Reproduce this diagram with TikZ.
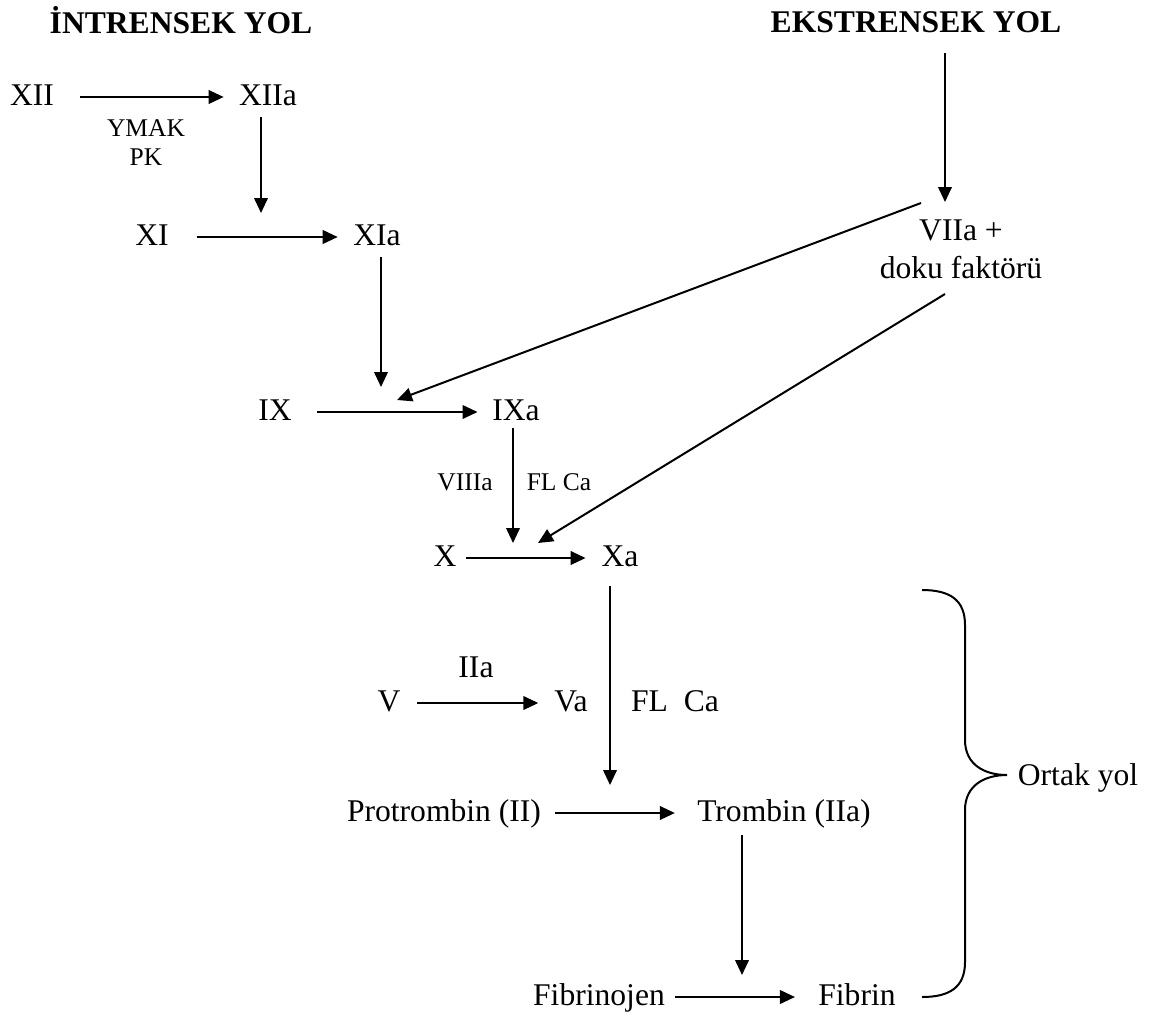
\documentclass[tikz,border=0pt]{standalone}
\usepackage{fontspec}
\setmainfont{Liberation Serif}
\usetikzlibrary{arrows.meta}
\begin{document}
\begin{tikzpicture}[x=0.5pt,y=0.5pt,yscale=-1,xscale=1,
  fac/.style={inner sep=0pt,font=\fontsize{15.8}{19}\selectfont,text height=10.9pt,text depth=2.85pt},
  ttl/.style={fac,font=\bfseries\fontsize{15.8}{19}\selectfont},
  two/.style={inner sep=0pt,align=center,font=\fontsize{15.8}{19}\selectfont},
  sml/.style={inner sep=0pt,align=center,font=\fontsize{12.75}{14.5}\selectfont},
  arr/.style={line width=1pt,-{Triangle[length=7.5pt,width=6.8pt]}}]
\useasboundingbox (0,0) rectangle (1156,1018);

% Text Node
\node[ttl] (intr) at (181,25) {İNTRENSEK YOL};
% Text Node
\node[ttl] (ekstr) at (916,24) {EKSTRENSEK YOL};
% Text Node
\node[fac] (xii) at (32,97) {XII};
\node[fac] (xiia) at (268,97) {XIIa};
\node[sml] (ymak) at (146,142.5) {YMAK\\PK};
% Text Node
\node[fac] (xi) at (152,237) {XI};
\node[fac] (xia) at (377,237) {XIa};
% Text Node
\node[two] (vii) at (961,249) {VIIa +\\doku faktörü};
% Text Node
\node[fac] (ix) at (275,412) {IX};
\node[fac] (ixa) at (516,412) {IXa};
\node[sml] (viiia) at (465,482) {VIIIa};
\node[sml] (flca) at (559,482) {FL Ca};
% Text Node
\node[fac] (fx) at (445,558) {X};
\node[fac] (fxa) at (620,558) {Xa};
% Text Node
\node[fac] (iia) at (476,669) {IIa};
\node[fac] (fv) at (389,703) {V};
\node[fac] (fva) at (571,703) {Va};
\node[fac] (flcb) at (675,703) {FL\ \ Ca};
% Text Node
\node[fac] (protr) at (444,813) {Protrombin (II)};
\node[fac] (trmb) at (784,813) {Trombin (IIa)};
% Text Node
\node[fac] (fbg) at (599,997) {Fibrinojen};
\node[fac] (fbr) at (857,997) {Fibrin};
% Text Node
\node[fac] (ortak) at (1078,777) {Ortak yol};

%Arrow ends
\coordinate (inxi) at (261,213);
\coordinate (inix) at (381,387);
\coordinate (dgix) at (397,400);
\coordinate (inx) at (513,543);
\coordinate (dgx) at (538,543);
\coordinate (inpr) at (610,785);
\coordinate (infb) at (742,975);
\coordinate (invii) at (945,202);
\coordinate (vtop) at (921,203);
\coordinate (vbot) at (945,294);

%Straight Lines
\draw[arr,shorten <=13pt,shorten >=7.5pt] (xii) -- (xiia);
\draw[arr,shorten <=13.75pt,shorten >=7.6pt] (xi) -- (xia);
\draw[arr,shorten <=12.6pt,shorten >=7.2pt] (ix) -- (ixa);
\draw[arr,shorten <=4.8pt,shorten >=7.8pt] (fx) -- (fxa);
\draw[arr,shorten <=8.3pt,shorten >=7.8pt] (fv) -- (fva);
\draw[arr,shorten <=7pt,shorten >=11pt] (protr) -- (trmb);
\draw[arr,shorten <=5pt,shorten >=11.5pt] (fbg) -- (fbr);

%Straight Lines
\draw[arr,shorten <=3.1pt] (xiia.south -| inxi) -- (inxi);
\draw[arr,shorten <=3.1pt] (xia.south -| inix) -- (inix);
\draw[arr,shorten <=1.1pt] (ixa.south -| inx) -- (inx);
\draw[arr,shorten <=7.1pt] (fxa.south -| inpr) -- (inpr);
\draw[arr,shorten <=4.1pt] (trmb.south -| infb) -- (infb);
\draw[arr,shorten <=7.6pt] (ekstr.south -| invii) -- (invii);

%Straight Lines
\draw[arr] (vtop) -- (dgix);
\draw[arr] (vbot) -- (dgx);

%Shape: Brace
\draw[line width=1pt] (922,590) .. controls (950,590) and (965,600) .. (965,625) -- (965,740) .. controls (965,765) and (985,775) .. (1007,775) .. controls (985,775) and (965,785) .. (965,810) -- (965,962) .. controls (965,987) and (950,997) .. (922,997);

\end{tikzpicture}
\end{document}
